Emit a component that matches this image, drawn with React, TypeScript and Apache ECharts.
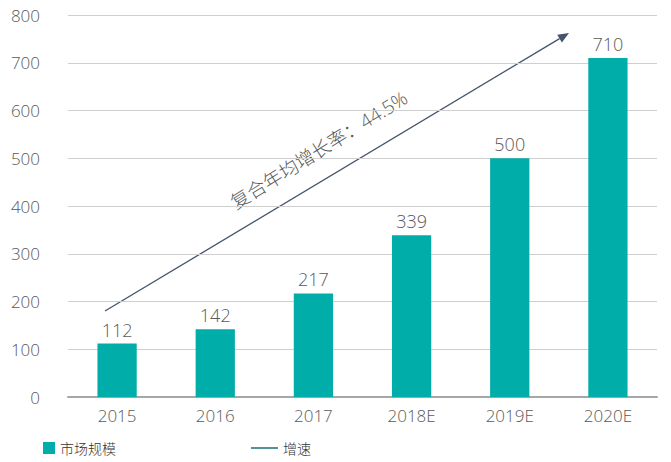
import React, { useEffect, useRef } from "react";
import * as echarts from "echarts";

const categories = ["2015", "2016", "2017", "2018E", "2019E", "2020E"];
const marketSize = [112, 142, 217, 339, 500, 710];
const growth: number[] = [];
const yTicks = [0, 100, 200, 300, 400, 500, 600, 700, 800];
const cagrText = "复合年均增长率：44.5%";

const FONT = "'Open Sans', 'Noto Sans CJK SC', sans-serif";

export default function App() {
  const ref = useRef<HTMLDivElement>(null);
  useEffect(() => {
    if (!ref.current) return;
    const chart = echarts.init(ref.current, null, { renderer: "svg" });
    const x0 = 105, y0 = 311, x1 = 569, y1 = 33;
    const ang = Math.atan2(y1 - y0, x1 - x0);
    const ah = 11, aw = 4.5;
    const bx = x1 - ah * Math.cos(ang), by = y1 - ah * Math.sin(ang);
    const px = -Math.sin(ang) * aw, py = Math.cos(ang) * aw;
    chart.setOption({
      animation: false,
      textStyle: { fontFamily: FONT },
      grid: { left: 68, right: 14, top: 15, bottom: 65 },
      legend: [
        {
          data: [{ name: "市场规模", icon: "rect" }],
          left: 43,
          top: 441,
          itemWidth: 12,
          itemHeight: 12,
          itemGap: 5,
          textStyle: { fontSize: 14, color: "#333", fontFamily: FONT, fontWeight: 300 },
          padding: 0,
        },
        {
          data: [{ name: "增速", icon: "rect" }],
          left: 251,
          top: 441,
          itemWidth: 27,
          itemHeight: 1.5,
          itemGap: 5,
          textStyle: { fontSize: 14, color: "#333", fontFamily: FONT, fontWeight: 300 },
          padding: 0,
        },
      ],
      xAxis: {
        type: "category",
        data: categories,
        axisLine: { lineStyle: { color: "#a6a6a6", width: 2 } },
        axisTick: { show: false },
        axisLabel: { color: "#595959", fontSize: 17, margin: 10, fontFamily: FONT, fontWeight: 300 },
      },
      yAxis: {
        type: "value",
        min: yTicks[0],
        max: yTicks[yTicks.length - 1],
        interval: 100,
        axisLine: { show: false },
        axisTick: { show: false },
        splitLine: { lineStyle: { color: "#cfcfcf", width: 1 } },
        axisLabel: { color: "#595959", fontSize: 17, margin: 28, fontFamily: FONT, fontWeight: 300 },
      },
      series: [
        {
          name: "市场规模",
          type: "bar",
          data: marketSize,
          barWidth: "40%",
          itemStyle: { color: "#00ADA9" },
          label: {
            show: true,
            position: "top",
            distance: 5,
            color: "#595959",
            fontSize: 18,
            fontFamily: FONT,
            fontWeight: 300,
          },
        },
        {
          name: "增速",
          type: "line",
          data: growth,
          symbol: "none",
          lineStyle: { color: "#1B6F72", width: 1.5 },
          itemStyle: { color: "#1B6F72" },
        },
      ],
      graphic: [
        {
          type: "line",
          shape: { x1: x0, y1: y0, x2: bx, y2: by },
          style: { stroke: "#44546A", lineWidth: 1.3 },
          silent: true,
        },
        {
          type: "polygon",
          shape: {
            points: [
              [x1, y1],
              [bx + px, by + py],
              [bx - px, by - py],
            ],
          },
          style: { fill: "#44546A" },
          silent: true,
        },
        {
          type: "text",
          x: 319,
          y: 150,
          rotation: 32 * Math.PI / 180,
          style: {
            text: cagrText,
            fontSize: 19,
            fill: "#595959",
            fontFamily: FONT,
            fontWeight: 300,
            align: "center",
            verticalAlign: "middle",
          },
          silent: true,
        },
      ],
    });
    return () => chart.dispose();
  }, []);
  return <div ref={ref} style={{ width: 671, height: 462, position: "absolute", left: 0, top: 0 }} />;
}
